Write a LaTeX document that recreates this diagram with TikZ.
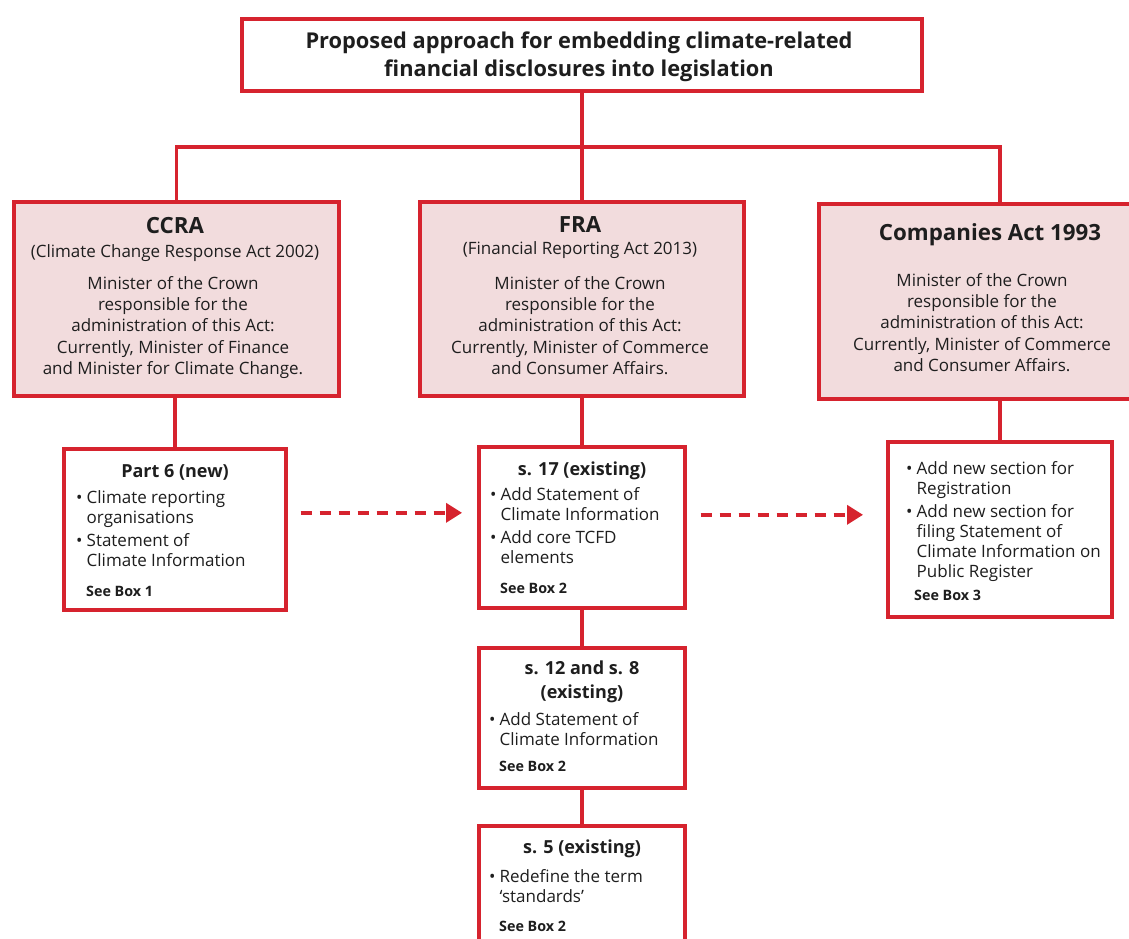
\documentclass[tikz,border=0pt]{standalone}
\usepackage{fontspec}
\setmainfont{Open Sans}
\usetikzlibrary{arrows.meta}
\definecolor{cred}{RGB}{214,35,46}
\definecolor{cpink}{RGB}{242,220,221}
\definecolor{ctext}{RGB}{30,30,30}
\newcommand\mybodyf{\fontsize{17}{21.4}\selectfont}
\newcommand\mybulf{\fontsize{17}{20}\selectfont}
\newcommand\myheadf{\fontsize{22.3}{26}\selectfont\bfseries}
\newcommand\mysubhf{\fontsize{18}{24}\selectfont\bfseries}
\newcommand\myseef{\fontsize{14.3}{16}\selectfont\bfseries}
\newcommand\mytitf{\fontsize{21.8}{28.5}\selectfont\bfseries}
\newcommand\mybul{\makebox[10.5pt][l]{\textbullet}}
\newcommand\myind{\hspace*{10.5pt}}
\begin{document}
\begin{tikzpicture}[x=1pt,y=-1pt,
  frame/.style={draw=cred, line width=3.6pt, inner sep=0pt, anchor=north west},
  actbox/.style={frame, fill=cpink},
  subbox/.style={frame, fill=white},
  link/.style={draw=cred, line width=3.6pt},
  dasharr/.style={draw=cred, line width=3.6pt, dash pattern=on 11pt off 8pt,
     -{Triangle[length=16pt,width=19pt]}},
  txt/.style={inner sep=0pt, text=ctext, align=center},
  bul/.style={inner sep=0pt, text=ctext, align=left, anchor=north west, font=\mybulf},
  see/.style={inner sep=0pt, text=ctext, anchor=base west, font=\myseef}]
\useasboundingbox (0,0) rectangle (1129,938);
\clip (0,0) rectangle (1129,938);
\fill[white] (0,0) rectangle (1129,938);

% boxes
\node[subbox, minimum width=680, minimum height=72] (title) at (240,17) {};
\node[actbox, minimum width=325, minimum height=194] (ccra) at (12,200) {};
\node[actbox, minimum width=324, minimum height=194] (fra) at (418,200) {};
\node[actbox, minimum width=336, minimum height=195] (comp) at (817,202) {};
\node[subbox, minimum width=222, minimum height=161] (part6) at (62,447) {};
\node[subbox, minimum width=206, minimum height=161] (s17) at (477,445) {};
\node[subbox, minimum width=224, minimum height=175] (sub3) at (886,440) {};
\node[subbox, minimum width=206, minimum height=140] (s12) at (477,646) {};
\node[subbox, minimum width=206, minimum height=150] (s5) at (477,824) {};

% connectors
\coordinate (bus) at (580,147);
\draw[link] (title.south) -- (fra.north);
\draw[link] (ccra.north) |- (bus) -| (sub3.north |- comp.north);
\draw[link] (part6.north) -- (part6.north |- ccra.south);
\draw[link] (s17.north) -- (s17.north |- fra.south);
\draw[link] (s12.north) -- (s12.north |- s17.south);
\draw[link] (s5.north) -- (s5.north |- s12.south);
\draw[link] (sub3.north) -- (sub3.north |- comp.south);
\draw[dasharr] ([shift={(13,-16.5)}]part6.east) -- ([shift={(-15,-14.5)}]s17.west);
\draw[dasharr] ([shift={(14,-12.5)}]s17.east) -- ([shift={(-23,-14.5)}]sub3.west);

% title text
\node[txt, font=\mytitf, anchor=north] (titletext) at (579,28) {\strut Proposed approach for embedding climate-related\\financial disclosures into legislation};

% CCRA
\node[txt, font=\myheadf, anchor=base] (ccrah) at (175,233) {CCRA};
\node[txt, font=\mybodyf, anchor=base] (ccras) at (175,257) {(Climate Change Response Act 2002)};
\node[txt, font=\mybodyf, anchor=north] (ccrab) at (173,274) {\strut Minister of the Crown\\responsible for the\\administration of this Act:\\Currently, Minister of Finance\\and Minister for Climate Change.};

% FRA
\node[txt, font=\myheadf, anchor=base] (frah) at (580,232) {FRA};
\node[txt, font=\mybodyf, anchor=base] (fras) at (580,254) {(Financial Reporting Act 2013)};
\node[txt, font=\mybodyf, anchor=north] (frab) at (580,274) {\strut Minister of the Crown\\responsible for the\\administration of this Act:\\Currently, Minister of Commerce\\and Consumer Affairs.};

% Companies
\node[txt, font=\myheadf, anchor=base] (comph) at (990,240) {Companies Act 1993};
\node[txt, font=\mybodyf, anchor=north] (compb) at (982,271) {\strut Minister of the Crown\\responsible for the\\administration of this Act:\\Currently, Minister of Commerce\\and Consumer Affairs.};

% Part 6
\node[txt, font=\mysubhf, anchor=base] (part6h) at (175,477) {Part 6 (new)};
\node[bul] (part6b) at (76,489) {\strut\mybul Climate reporting\\\myind organisations\\[3.5pt]\mybul Statement of\\\myind Climate Information};
\node[see] (part6s) at (86,596) {See Box 1};

% s. 17
\node[txt, font=\mysubhf, anchor=base] (s17h) at (582,475) {s. 17 (existing)};
\node[bul] (s17b) at (490,486) {\strut\mybul Add Statement of\\\myind Climate Information\\[3pt]\mybul Add core TCFD\\\myind elements};
\node[see] (s17s) at (500,593) {See Box 2};

% Companies sub-box
\node[bul] (sub3b) at (906,460) {\strut\mybul Add new section for\\\myind Registration\\[3pt]\mybul Add new section for\\\myind filing Statement of\\\myind Climate Information on\\\myind Public Register};
\node[see] (sub3s) at (914,600) {See Box 3};

% s. 12 and s. 8
\node[txt, font=\mysubhf, anchor=north] (s12h) at (582,657) {\strut s. 12 and s. 8\\(existing)};
\node[bul] (s12b) at (489,711) {\strut\mybul Add Statement of\\\myind Climate Information};
\node[see] (s12s) at (499,771) {See Box 2};

% s. 5
\node[txt, font=\mysubhf, anchor=base] (s5h) at (582,853) {s. 5 (existing)};
\node[bul] (s5b) at (489,868) {\strut\mybul Redefine the term\\\myind `standards'};
\node[see] (s5s) at (499,931) {See Box 2};
\end{tikzpicture}
\end{document}
